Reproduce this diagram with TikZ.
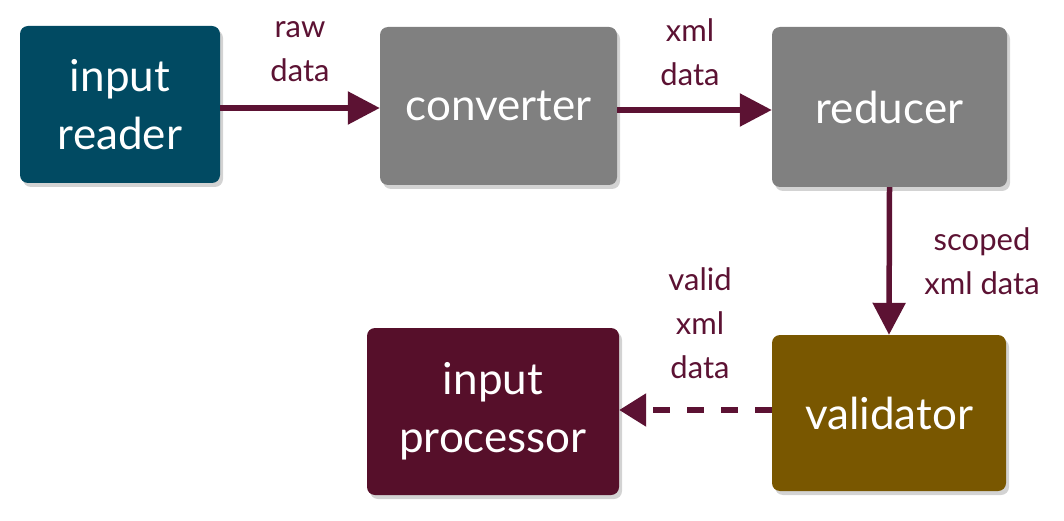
\documentclass[tikz,border=0pt]{standalone}
\usepackage{fontspec}
\setmainfont{Lato}
\usetikzlibrary{arrows.meta,shadows}
\definecolor{cteal}{HTML}{014A62}
\definecolor{cgray}{HTML}{808080}
\definecolor{colive}{HTML}{795700}
\definecolor{cmaroon}{HTML}{560F2A}
\definecolor{carrow}{HTML}{5C1233}
\tikzset{
  box/.style={rounded corners=8pt, draw=none, text=white, align=center,
    font=\fontsize{44}{58}\selectfont,
    drop shadow={opacity=0.35, shadow xshift=3pt, shadow yshift=-4pt}},
  lbl/.style={text=carrow, align=center, font=\fontsize{31}{44}\selectfont},
  flow/.style={draw=carrow, line width=5.5pt, -{Triangle[length=32pt,width=32pt]}},
  dflow/.style={draw=carrow, line width=5.5pt, dash pattern=on 17pt off 17pt,
    -{Triangle[length=27pt,width=32pt]}}
}
\begin{document}
\begin{tikzpicture}[x=1pt,y=-1pt]
\useasboundingbox (0,0) rectangle (1064,521);
\node[box, fill=cteal, minimum width=200pt, minimum height=157pt] (reader) at (120,104.5) {input\\reader};
\node[box, fill=cgray, minimum width=237pt, minimum height=158pt] (conv) at (498.5,106) {converter};
\node[box, fill=cgray, minimum width=235pt, minimum height=160pt] (red) at (889.5,107) {reducer};
\node[box, fill=colive, minimum width=234pt, minimum height=156pt] (val) at (889,413) {validator};
\node[box, fill=cmaroon, minimum width=252pt, minimum height=167pt] (proc) at (493,411.5) {input\\processor};
\draw[flow] (reader.east |- 0,108) -- (conv.west |- 0,108);
\draw[flow] (conv.east |- 0,110) -- (red.west |- 0,110);
\draw[flow] (red.south) -- (val.north);
\draw[dflow] (val.west |- 0,410) -- (proc.east |- 0,410);
\node[lbl] (l1) at (300,52) {raw\\data};
\node[lbl] (l2) at (690,52) {xml\\data};
\node[lbl] (l3) at (982,261) {scoped\\xml data};
\node[lbl] (l4) at (700,323) {valid\\xml\\data};
\end{tikzpicture}
\end{document}
